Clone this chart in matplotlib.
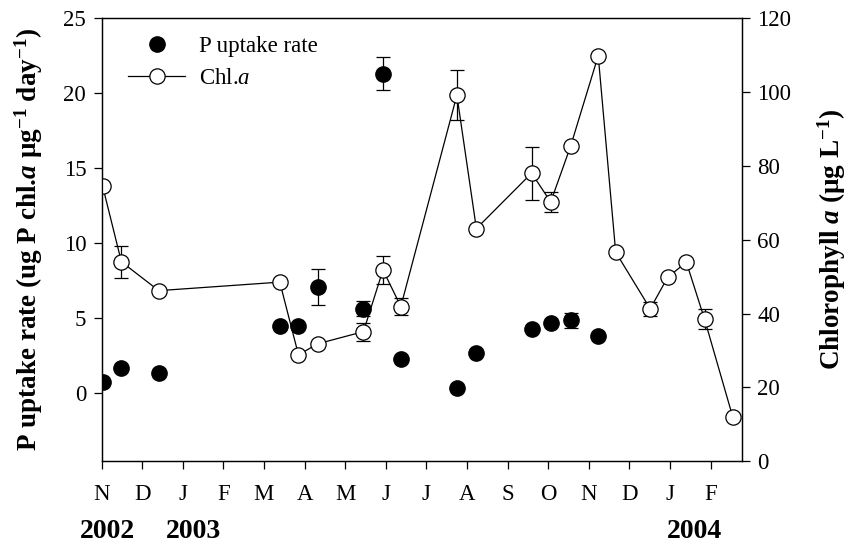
import matplotlib
matplotlib.use("Agg")
import matplotlib.pyplot as plt
from matplotlib.lines import Line2D
from matplotlib.transforms import blended_transform_factory

plt.rcParams['font.family'] = ['Liberation Serif', 'DejaVu Serif']
plt.rcParams['mathtext.fontset'] = 'custom'
plt.rcParams['mathtext.rm'] = 'Liberation Serif'
plt.rcParams['mathtext.it'] = 'Liberation Serif:italic'
plt.rcParams['mathtext.bf'] = 'Liberation Serif:bold'
plt.rcParams['mathtext.bfit'] = 'Liberation Serif:italic:bold'

# Sampling times in months since 1 Nov 2002
sample_month = [0.03, 0.49, 1.41, 4.39, 4.85, 5.32, 6.45, 6.93, 7.37, 8.75, 9.23,
                10.59, 11.06, 11.55, 12.23, 12.66, 13.51, 13.94, 14.40, 14.85, 15.54]

# Chlorophyll a (ug/L) and its standard error
chl = [74.4, 54.0, 46.2, 48.5, 28.8, 31.8, 35.1, 51.8, 41.9, 99.1, 63.0,
       78.0, 70.2, 85.3, 109.8, 56.6, 41.3, 49.8, 53.9, 38.4, 12.1]
chl_err = [0, 4.3, 0, 0, 0, 0, 2.4, 3.9, 2.3, 6.7, 0,
           7.2, 2.8, 0, 0, 0, 1.9, 0, 0, 2.7, 0]

# P uptake rate, measured on the first 15 sampling dates
p_uptake = [0.73, 1.71, 1.37, 4.48, 4.48, 7.10, 5.62, 21.3, 2.26, 0.33, 2.66,
            4.28, 4.66, 4.88, 3.82]
p_err = [0, 0, 0, 0, 0, 1.2, 0.5, 1.1, 0, 0, 0, 0, 0, 0.5, 0]

month_labels = ['N', 'D', 'J', 'F', 'M', 'A', 'M', 'J', 'J', 'A', 'S', 'O', 'N', 'D', 'J', 'F']
year_labels = ['2002', '2003', '2004']
year_pos = [0.16, 2.26, 14.59]

W, H = 851, 549
fig = plt.figure(figsize=(W / 100, H / 100), dpi=100)
ax = fig.add_axes([101.5 / W, 1 - 461.3 / H, (742 - 101.5) / W, (461.3 - 18) / H])
ax2 = ax.twinx()

lw = 0.9
ms = 11
tick_fs = 16.5
label_fs = 19.5
year_fs = 20

n_p = len(p_uptake)
ax.errorbar(sample_month[:n_p], p_uptake, yerr=p_err, fmt='o', color='black',
            markersize=ms, ecolor='black', elinewidth=lw, capsize=5, capthick=lw,
            zorder=3)

ax2.errorbar(sample_month, chl, yerr=chl_err, fmt='-o', color='black', lw=lw,
             markersize=ms, markerfacecolor='white', markeredgecolor='black',
             markeredgewidth=lw, ecolor='black', elinewidth=lw, capsize=5,
             capthick=lw, zorder=3)

ax.set_xlim(0, 15.77)
ax.set_ylim(-4.53, 25)
ax2.set_ylim(0, 120)

ax.set_xticks(range(len(month_labels)))
ax.set_xticklabels(month_labels)
ax.set_yticks([0, 5, 10, 15, 20, 25])
ax2.set_yticks([0, 20, 40, 60, 80, 100, 120])

for a in (ax, ax2):
    a.tick_params(direction='out', length=6, width=lw, labelsize=tick_fs, pad=5)
    for s in a.spines.values():
        s.set_linewidth(lw)
ax.tick_params(axis='x', pad=10)

ax.set_ylabel(r'P uptake rate (ug P chl.$\mathbfit{a}$ μg$^{\mathbf{-1}}$ day$^{\mathbf{-1}}$)',
              fontsize=label_fs, fontweight='bold', va='center')
ax.yaxis.set_label_coords(29 / W, 0.5, transform=blended_transform_factory(fig.transFigure, ax.transAxes))
ax2.set_ylabel(r'Chlorophyll $\mathbfit{a}$ (μg L$^{\mathbf{-1}}$)',
               fontsize=label_fs, fontweight='bold', va='center')
ax2.yaxis.set_label_coords(832 / W, 0.5, transform=blended_transform_factory(fig.transFigure, ax2.transAxes))

trans = blended_transform_factory(ax.transData, fig.transFigure)
for lbl, xp in zip(year_labels, year_pos):
    ax.text(xp, 1 - 532 / H, lbl, transform=trans, ha='center', va='center',
            fontsize=year_fs, fontweight='bold')

handles = [
    Line2D([], [], ls='none', marker='o', color='black', markersize=ms),
    Line2D([], [], ls='-', lw=lw, marker='o', color='black', markersize=ms,
           markerfacecolor='white', markeredgewidth=lw),
]
ax.legend(handles, ['P uptake rate', r'Chl.$\mathit{a}$'], loc='upper left',
          bbox_to_anchor=(128 / W, 1 - 36 / H), bbox_transform=fig.transFigure,
          frameon=False, fontsize=tick_fs, handlelength=2.5, handletextpad=0.6,
          labelspacing=0.48, borderpad=0, borderaxespad=0)
ax.set_zorder(ax2.get_zorder() + 1)
ax.patch.set_visible(False)

fig.savefig('out.png', dpi=100)
